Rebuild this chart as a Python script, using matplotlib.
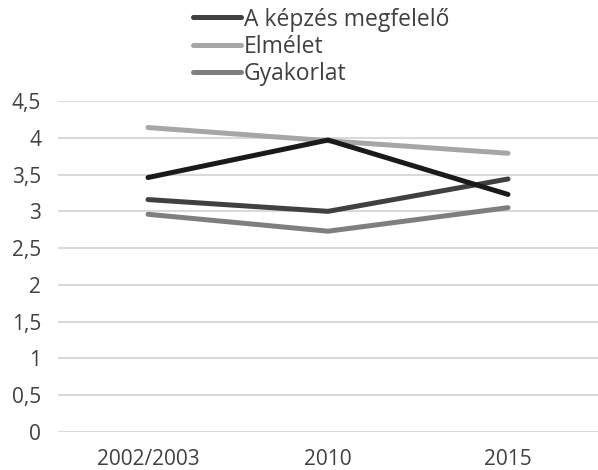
import matplotlib
matplotlib.use("Agg")
import matplotlib.pyplot as plt

categories = ["2002/2003", "2010", "2015"]
kepzes = [3.16, 3.00, 3.44]
elmelet = [4.14, 3.96, 3.79]
gyakorlat = [2.96, 2.73, 3.05]
unlabeled = [3.46, 3.97, 3.23]
yticks = [0, 0.5, 1, 1.5, 2, 2.5, 3, 3.5, 4, 4.5]
ytick_labels = ["0", "0,5", "1", "1,5", "2", "2,5", "3", "3,5", "4", "4,5"]

plt.rcParams['font.family'] = ['Open Sans', 'DejaVu Sans']

fig = plt.figure(figsize=(5.98, 4.70), dpi=100)
ax = fig.add_axes([0.097, 0.081, 0.903, 0.704])

x = range(len(categories))
lw = 3.6
l1, = ax.plot(x, kepzes, color="#404040", lw=lw, solid_capstyle="round", label="A képzés megfelelő")
l2, = ax.plot(x, elmelet, color="#a6a6a6", lw=lw, solid_capstyle="round", label="Elmélet")
l3, = ax.plot(x, gyakorlat, color="#7f7f7f", lw=lw, solid_capstyle="round", label="Gyakorlat")
ax.plot(x, unlabeled, color="#1a1a1a", lw=lw, solid_capstyle="round", zorder=3)

ax.set_xlim(-0.5, 2.5)
ax.set_ylim(0, 4.5)
ax.set_yticks(yticks)
ax.set_yticklabels(ytick_labels)
ax.set_xticks(list(x))
ax.set_xticklabels(categories)
ax.tick_params(axis='both', length=0, labelsize=15, colors="#404040")
ax.tick_params(axis='x', pad=12)
ax.tick_params(axis='y', pad=12)
ax.grid(axis='y', color="#d9d9d9", lw=1.5)
ax.set_axisbelow(True)
for s in ax.spines.values():
    s.set_visible(False)

fig.legend(handles=[l1, l2, l3], loc="upper left", bbox_to_anchor=(0.323, 0.984),
           frameon=False, fontsize=16.5, handlelength=2.1, handletextpad=0.1,
           labelspacing=0.15, borderaxespad=0, borderpad=0, labelcolor="#404040")

fig.savefig("out.png", dpi=100)
